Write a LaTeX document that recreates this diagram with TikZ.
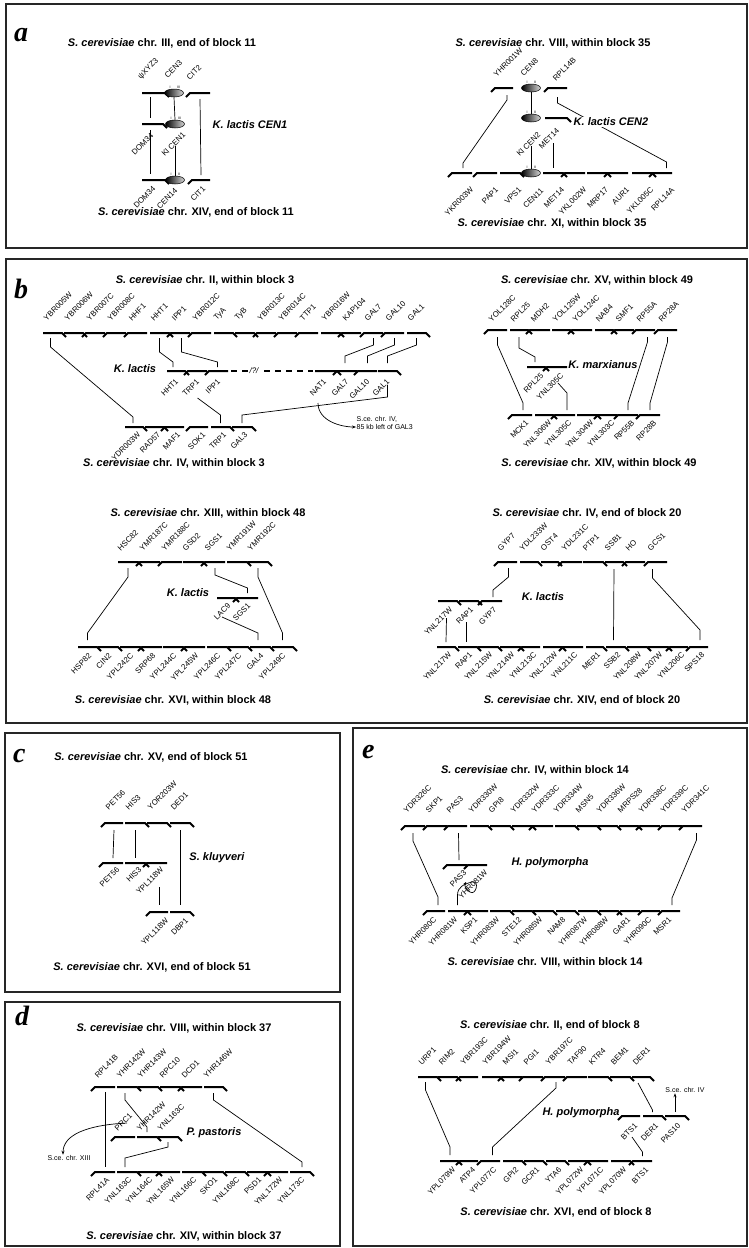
\documentclass[tikz,border=0pt]{standalone}
\usepackage{fontspec}
\setmainfont{Liberation Sans}
\newfontfamily\panelfont{Liberation Serif}
\usetikzlibrary{calc,shapes.geometric,arrows.meta}

\newcommand{\sce}{\textit{S. cerevisiae}}
% one row of genes: name, y, label style, label dx, label dy, list tail/tip/label
\newcommand{\generow}[6]{%
  \foreach \a/\b/\lab [count=\i] in {#6}{%
    \draw[gene] (\a,#2) -- (\b,#2) -- ++({4*sign(\b-\a)},4);
    \coordinate (#1-\i) at ({(\a+\b)/2},#2);
    \node[#3] at ({min(\a,\b)+(#4)},{#2+(#5)}) {\lab};
  }}

\begin{document}
\begin{tikzpicture}[x=1pt, y=-1pt,
    gene/.style={line width=2pt, line join=miter},
    link/.style={line width=0.7pt},
    gtop/.style={anchor=south west, rotate=45, inner sep=0.3pt, font=\fontsize{7.8}{8}\selectfont},
    gbot/.style={anchor=north east, rotate=45, inner sep=0.3pt, font=\fontsize{7.8}{8}\selectfont},
    title/.style={font=\fontsize{11}{12}\selectfont\bfseries},
    species/.style={font=\fontsize{11}{12}\selectfont\bfseries\itshape},
    note/.style={font=\fontsize{7}{8}\selectfont, align=left, inner sep=0.5pt},
    letter/.style={anchor=base west, inner sep=0, font=\fontsize{28}{28}\panelfont\bfseries\itshape},
    frame/.style={line width=1.2pt, draw=black!85},
    cen/.style={ellipse, draw, line width=0.5pt, minimum width=19pt, minimum height=8pt, inner sep=0, left color=black, right color=black!15},
    tick/.style={font=\fontsize{3.5}{4}\selectfont, inner sep=0.3pt}]
\fill[white] (0,0) rectangle (749,1248);
\useasboundingbox (0,0) rectangle (749,1248);

% panel a
\draw[frame] (6,4) rectangle (747,248);
\node[letter] (la) at (14,41) {a};
\node[title] (ta1) at (162,43) {\sce{} chr. III, end of block 11};
\generow{a1}{93}{gtop}{0}{-12}{142/165/ψXYZ3, 210/190/CIT2}
\node[cen, label={[tick]125:I}, label={[tick]55:III}] (cen3) at (174,93) {};
\node[gtop] at (168,79) {CEN3};
\generow{a2}{124}{gbot}{8}{8}{142/163/DOM34}
\node[cen, label={[tick]125:I}, label={[tick]55:III}] (klcen1) at (175,124) {};
\node[gbot] at (182,131) {Kl CEN1};
\node[species] (kl1) at (250,125) {K. lactis CEN1};
\generow{a3}{180}{gbot}{10}{5}{142/165/DOM34, 210/192/CIT1}
\node[cen, label={[tick]125:I}, label={[tick]55:II}] (cen14) at (175,180) {};
\node[gbot] at (174,187) {CEN14};
\node[title] (ta2) at (196,212) {\sce{} chr. XIV, end of block 11};

\draw[link] ($(a1-1)+(-3,4)$) -- ($(a2-1)+(-2,-6)$);
\draw[link] ($(a2-1)+(-2,6)$) -- ($(a3-1)+(-3,-6)$);
\draw[link] (cen3.south) -- (klcen1.north);
\draw[link] ($(klcen1.south)+(0,18)$) -- (cen14.north);
\draw[link] ($(a1-2)+(0,6)$) -- ($(a3-2)+(0,-5)$);

\node[title] (ta3) at (553,43) {\sce{} chr. VIII, within block 35};
\generow{a4}{88}{gtop}{2}{-10}{513/495/YHR001W}
\generow{a4r}{88}{gtop}{8}{-6}{567/548/RPL14B}
\node[cen, label={[tick]125:I}, label={[tick]55:II}] (cen8) at (531,88) {};
\node[gtop] at (524,77) {CEN8};
\node[cen, label={[tick]125:I}, label={[tick]55:II}] (klcen2) at (531,118) {};
\node[gbot] at (537,131) {Kl CEN2};
\generow{a5}{118}{gbot}{11}{9}{545/567/MET14}
\generow{a6}{173}{gbot}{18}{13}{472/452/YKR003W, 497/477/PAP1, 500/520/VPS1, 543/563/MET14, 585/565/YKL002W, 587/607/MRP17, 628/608/AUR1, 632/652/YKL005C, 672/653/RPL14A}
\node[cen, label={[tick]125:I}, label={[tick]55:II}] (cen11) at (531,173) {};
\node[gbot] at (540,187) {CEN11};
\node[title] (ta4) at (552,223) {\sce{} chr. XI, within block 35};

\draw[link] ($(a4-1)+(3,7)$) -- ++(0,5) -- ($(a6-1)+(1,-10)$) -- ++(0,5);
\draw[link] (cen8.south) -- (klcen2.north);
\draw[link] ($(a4r-1)+(0,9)$) -- ++(0,6) -- ($(a6-9)+(4,-11)$) -- ++(0,6);
\draw[link] ($(klcen2.south)+(0,24)$) -- (cen11.north);
\draw[link] ($(a5-1)+(-3,25)$) -- ($(a6-4)+(0,-5)$);
\node[species, fill=white, inner sep=1pt] (kl2) at (611,122) {K. lactis CEN2};

% panel b
\draw[frame] (6,259) rectangle (747,723);
\node[letter] (lb) at (14,298) {b};
\node[title] (tb1) at (205,280) {\sce{} chr. II, within block 3};
\generow{b1}{333}{gtop}{4}{-11}{43/62/YBR005W, 64/83/YBR006W, 105/86/YBR007C, 126/107/YBR008C, 147/128/HHF1, 150/169/HHT1, 190/171/IPP1, 211/192/YBR012C, 214/233/TyA, 235/254/TyB, 276/257/YBR013C, 297/278/YBR014C, 318/299/TTP1, 321/340/YBR016W, 361/342/KAP104, 383/364/GAL7, 404/385/GAL10, 407/426/GAL1}
\node[species] (klb) at (135,369) {K. lactis};
\draw[gene, line width=1.2pt, dash pattern=on 6pt off 5pt] (231,371) -- (313,371);
\node[fill=white, inner sep=1pt, font=\fontsize{8}{8}\selectfont\itshape] (unk) at (254,371) {/?/};
\generow{b2}{371}{gbot}{8}{7}{167/185/HHT1, 207/188/TRP1, 228/209/IPP1, 315/337/NAT1, 357/337/GAL7, 377/358/GAL10, 378/397/GAL1}
\generow{b3}{427}{gbot}{12}{4}{125/143/YDR003W, 145/164/RAD57, 184/165/MAF1, 208/190/SOK1, 211/230/TRP1, 232/252/GAL3}
\node[title] (tb2) at (174,463) {\sce{} chr. IV, within block 3};

\draw[link] ($(b1-1)+(-2,5)$) -- ++(0,9) -- ($(b3-1)+(-1,-10)$) -- ++(0,6);
\draw[link] ($(b1-6)+(0,5)$) -- ++(0,14) -- ($(b2-1)+(-3,-9)$) -- ++(0,5);
\draw[link] ($(b1-7)+(1,5)$) -- ++(0,14) -- ($(b2-3)+(-1,-9)$) -- ++(0,5);
\draw[link] ($(b1-16)+(0,5)$) -- ++(0,7) -- ($(b2-5)+(-2,-15)$) -- ++(0,7);
\draw[link] ($(b1-17)+(0,5)$) -- ++(0,7) -- ($(b2-6)+(0,-15)$) -- ++(0,7);
\draw[link] ($(b1-18)+(0,5)$) -- ++(0,7) -- ($(b2-7)+(0,-15)$) -- ++(0,7);
\draw[link] ($(b2-2)+(0,27)$) -- ($(b3-5)+(0,-12)$) -- ++(0,8);
\draw[link] ($(b3-6)+(0,-4)$) -- ++(0,-8) -- ($(b2-7)+(0,26)$) -- ++(0,-12);
\node[note, anchor=west] (natnote) at (356,423) {S.ce. chr. IV,\\85 kb left of GAL3};
\draw[link, -{Stealth[length=4pt,width=3pt]}] ($(b2-4)+(-8,32)$) .. controls +(0,18) and +(-15,0) .. ($(natnote.west)+(0,4)$);

\node[title] (tb3) at (597,280) {\sce{} chr. XV, within block 49};
\generow{b4}{330}{gtop}{4}{-7}{507/488/YOL128C, 510/528/RPL25, 550/530/MDH2, 552/570/YOL125W, 592/572/YOL124C, 595/613/NAB4, 634/615/SMF1, 655/636/RP55A, 677/658/RP28A}
\generow{b5}{367}{gbot}{13}{5}{527/545/RPL25, 567/547/YNL305C}
\node[species] (kmx) at (603,365) {K. marxianus};
\generow{b6}{415}{gbot}{13}{4}{532/512/MCK1, 535/553/YNL306W, 575/555/YNL305C, 577/597/YNL304W, 617/598/YNL303C, 638/618/RP55B, 660/640/RP28B}
\node[title] (tb4) at (599,463) {\sce{} chr. XIV, within block 49};

\draw[link] ($(b4-1)+(0,7)$) -- ++(0,8) -- ($(b6-1)+(1,-12)$) -- ++(0,7);
\draw[link] ($(b4-2)+(0,7)$) -- ++(0,11) -- ($(b5-1)+(-1,-10)$) -- ++(0,5);
\draw[link] ($(b5-2)+(1,16)$) -- ($(b6-3)+(2,-22)$) -- ++(0,17);
\draw[link] ($(b4-8)+(2,7)$) -- ++(0,5) -- ($(b6-6)+(0,-12)$) -- ++(0,7);
\draw[link] ($(b4-9)+(0,7)$) -- ++(0,5) -- ($(b6-7)+(0,-12)$) -- ++(0,7);

\node[title] (tb5) at (208,513) {\sce{} chr. XIII, within block 48};
\generow{b7}{562}{gtop}{3}{-10}{118/138/HSC82, 160/140/YMR187C, 182/162/YMR188C, 183/203/GSD2, 225/205/SGS1, 227/247/YMR191W, 248/268/YMR192C}
\node[species] (klc) at (188,593) {K. lactis};
\generow{b8}{598}{gbot}{10}{4}{217/235/LAC9, 258/237/SGS1}
\generow{b9}{647}{gbot}{10}{5}{78/97/HSP82, 98/118/CIN2, 120/140/YPL242C, 162/142/SRP68, 163/183/YPL244C, 205/185/YPL245W, 207/227/YPL246C, 228/248/YPL247C, 250/270/GAL4, 272/293/YPL249C}
\node[title] (tb6) at (173,700) {\sce{} chr. XVI, within block 48};

\draw[link] ($(b7-1)+(0,6)$) -- ++(0,9) -- ($(b9-1)+(0,-14)$) -- ++(0,7);
\draw[link] ($(b7-5)+(0,6)$) -- ++(0,7) -- ($(b8-2)+(0,-10)$) -- ++(0,5);
\draw[link] ($(b8-1)+(-4,19)$) -- ($(b9-9)+(-2,-14)$) -- ++(0,7);
\draw[link] ($(b7-7)+(0,6)$) -- ++(0,9) -- ($(b9-10)+(0,-14)$) -- ++(0,7);

\node[title] (tb7) at (587,513) {\sce{} chr. IV, end of block 20};
\generow{b10}{562}{gtop}{3}{-10}{517/498/GYP7, 520/538/YDL233W, 541/558/OST4, 582/562/YDL231C, 583/603/PTP1, 605/623/SSB1, 645/626/HO, 667/648/GCS1}
\node[species] (kld) at (543,597) {K. lactis};
\generow{b11}{601}{gbot}{11}{5}{438/457/YNL217W, 459/478/RAP1, 502/482/GYP7}
\generow{b12}{647}{gbot}{11}{4}{437/455/YNL217W, 458/477/RAP1, 478/498/YNL215W, 500/520/YNL214W, 540/522/YNL213C, 543/562/YNL212W, 583/563/YNL211C, 586/603/MER1, 606/625/SSB2, 627/647/YNL208W, 648/668/YNL207W, 688/670/YNL206C, 708/690/SPS18}
\node[title] (tb8) at (582,700) {\sce{} chr. XIV, end of block 20};

\draw[link] ($(b10-1)+(1,6)$) -- ++(0,9) -- ($(b11-3)+(1,-11)$) -- ++(0,7);
\draw[link] ($(b11-1)+(-1,17)$) -- ($(b12-1)+(0,-5)$);
\draw[link] ($(b11-2)+(-2,21)$) -- ($(b12-2)+(-1,-5)$);
\draw[link] ($(b10-6)+(0,7)$) -- ($(b12-9)+(-2,-7)$);
\draw[link] ($(b10-8)+(-5,7)$) -- ++(0,9) -- ($(b12-13)+(1,-17)$) -- ++(0,10);

% panel c
\draw[frame] (5,733) rectangle (340,992);
\node[letter] (lc) at (13,762) {c};
\node[title] (tc1) at (151,757) {\sce{} chr. XV, end of block 51};
\generow{c1}{823}{gtop}{4}{-12}{123/105/PET56, 125/145/HIS3, 147/167/YOR203W, 170/190/DED1}
\node[species] (skl) at (217,858) {S. kluyveri};
\generow{c2}{863}{gbot}{13}{3}{123/103/PET56, 125/145/HIS3, 167/147/YPL118W}
\generow{c3}{912}{gbot}{15}{5}{168/150/YPL118W, 170/190/DBP1}
\node[title] (tc2) at (152,967) {\sce{} chr. XVI, end of block 51};

\draw[link] ($(c1-1)+(0,7)$) -- ($(c2-1)+(0,-5)$);
\draw[link] ($(c1-2)+(0,7)$) -- ($(c2-2)+(0,-5)$);
\draw[link] ($(c1-4)+(0,7)$) -- ($(c3-2)+(0,-7)$);
\draw[link] ($(c2-3)+(2,24)$) -- ($(c3-1)+(0,-7)$);

% panel d
\draw[frame] (5,1002) rectangle (340,1246);
\node[letter] (ld) at (15,1025) {d};
\node[title] (td1) at (174,1028) {\sce{} chr. VIII, within block 37};
\generow{d1}{1087}{gtop}{3}{-8}{115/95/RPL41B, 117/137/YHR142W, 138/158/YHR143W, 160/180/RPC10, 202/182/DCD1, 204/223/YHR146W}
\generow{d2}{1137}{gtop}{3}{-5}{135/115/PRC1, 137/157/YHR142W, 158/178/YNL163C}
\node[species] (pp) at (214,1133) {P. pastoris};
\generow{d3}{1172}{gbot}{11}{4}{115/95/RPL41A, 117/137/YNL163C, 138/158/YNL164C, 180/160/YNL165W, 182/202/YNL166C, 203/223/SKO1, 225/245/YNL168C, 247/267/PSD1, 288/268/YNL172W, 290/310/YNL173C}
\node[title] (td2) at (184,1236) {\sce{} chr. XIV, within block 37};

\draw[link] ($(d1-1)+(0,5)$) -- ($(d3-1)+(0,-5)$);
\draw[link] ($(d1-2)+(-2,6)$) -- ++(0,7) -- ($(d2-2)+(0,-10)$) -- ++(0,5);
\draw[link] ($(d2-3)+(0,5)$) -- ++(0,5) -- ($(d3-2)+(-2,-14)$) -- ++(0,9);
\draw[link] ($(d1-6)+(0,6)$) -- ++(0,7) -- ($(d3-10)+(2,-10)$) -- ++(0,5);
\node[note] (prcnote) at (69,1158) {S.ce. chr. XIII};
\draw[link, -{Stealth[length=4pt,width=3pt]}] ($(d2-1)+(2,-14)$) .. controls +(-40,2) and +(0,-20) .. ([xshift=-6pt]prcnote.north);

% panel e
\draw[frame] (353,728) rectangle (747,1246);
\node[letter] (le) at (362,758) {e};
\node[title] (te1) at (535,770) {\sce{} chr. IV, within block 14};
\generow{e1}{826}{gtop}{2}{-12}{425/405/YDR326C, 447/427/SKP1, 467/448/PAS3, 470/488/YDR330W, 490/510/GPI8, 512/532/YDR332W, 553/533/YDR333C, 555/575/YDR334W, 577/597/MSN5, 598/617/YDR336W, 619/638/MRPS28, 660/640/YDR338C, 682/662/YDR339C, 702/683/YDR341C}
\generow{e2}{865}{gbot}{16}{4}{467/447/PAS3, 487/468/YHR081W}
\node[species] (hp1) at (550,863) {H. polymorpha};
\generow{e3}{911}{gbot}{6}{5}{445/427/YHR080C, 448/467/YHR081W, 488/468/KSP1, 490/510/YHR083W, 512/532/STE12, 533/553/YHR085W, 556/575/NAM8, 578/597/YHR087W, 599/618/YHR088W, 640/621/GAR1, 660/642/YHR090C, 680/662/MSR1}
\node[title] (te2) at (545,962) {\sce{} chr. VIII, within block 14};

\draw[link] ($(e1-1)+(-2,7)$) -- ++(0,8) -- ($(e3-1)+(2,-14)$) -- ++(0,8);
\draw[link] ($(e1-3)+(1,7)$) -- ($(e2-1)+(2,-5)$);
\draw[link] ($(e1-14)+(4,7)$) -- ++(0,7) -- ($(e3-12)+(1,-13)$) -- ++(0,7);
\draw[link, -{Stealth[length=3pt,width=3pt]}] ($(e3-2)+(0,-6)$) -- ++(0,-10) .. controls +(0,-8) and +(-8,2) .. (472,882) .. controls +(8,-2) and +(6,4) .. (470,892) .. controls +(-4,-3) and +(-2,4) .. (466,882);

\node[title] (te3) at (550,1025) {\sce{} chr. II, end of block 8};
\generow{e4}{1077}{gtop}{4}{-11}{418/437/URP1, 438/457/RIM2, 478/460/YBR193C, 482/500/YBR194W, 522/502/MSI1, 543/523/PGI1, 565/545/YBR197C, 587/567/TAF90, 588/608/KTR4, 610/630/BEM1, 632/650/DER1}
\node[species] (hp2) at (581,1113) {H. polymorpha};
\generow{e5}{1116}{gbot}{12}{6}{640/622/BTS1, 643/662/DER1, 665/685/PAS10}
\generow{e6}{1161}{gbot}{12}{5}{440/458/YPL079W, 478/460/ATP4, 500/481/YPL077C, 503/522/GPI2, 524/543/GCR1, 546/565/YTA6, 568/587/YPL072W, 608/588/YPL071C, 611/630/YPL070W, 652/633/BTS1}
\node[title] (te4) at (556,1212) {\sce{} chr. XVI, end of block 8};

\draw[link] ($(e4-1)+(-2,5)$) -- ++(0,8) -- ($(e6-1)+(1,-14)$) -- ++(0,8);
\draw[link] ($(e4-7)+(1,5)$) -- ++(0,6) -- ($(e6-3)+(2,-14)$) -- ++(0,8);
\draw[link] ($(e4-11)+(-3,6)$) -- ($(e5-2)+(0,-6)$) -- ++(0,2);
\draw[link] ($(e5-1)+(1,21)$) -- ($(e6-10)+(0,-9)$) -- ++(0,4);
\node[note] (pasnote) at (685,1090) {S.ce. chr. IV};
\draw[link, -{Stealth[length=4pt,width=3pt]}] ($(e5-3)+(0,-4)$) -- (e5-3 |- pasnote.south);
\end{tikzpicture}
\end{document}
